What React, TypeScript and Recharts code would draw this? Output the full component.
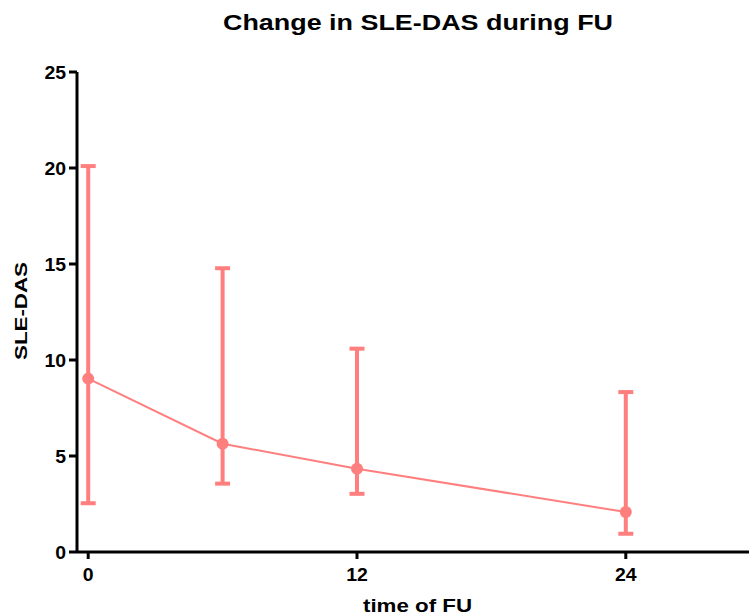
import React from "react";
import { LineChart, Line, XAxis, YAxis, ErrorBar, Label } from "recharts";

// months of follow-up
const months = [0, 6, 12, 24];
// SLE-DAS mean and the error-bar limits
const means = [9.03, 5.64, 4.34, 2.08];
const upper = [20.1, 14.78, 10.59, 8.33];
const lower = [2.54, 3.56, 3.03, 0.95];

const xTicks = [0, 12, 24];
const yTicks = [0, 5, 10, 15, 20, 25];

const PINK = "#FF7F7F";
const FONT = "'Liberation Sans', Arial, sans-serif";

const data = months.map((m, i) => ({
  month: m,
  mean: means[i],
  err: [means[i] - lower[i], upper[i] - means[i]],
}));

// bold, slightly widened tick text like the original export
function Tick(props: any) {
  const { x, y, payload, textAnchor, orientation } = props;
  const label = String(payload.value);
  const dy = orientation === "bottom" ? 13 : 6.5;
  return (
    <text
      x={x}
      y={y + dy}
      textAnchor={textAnchor}
      textLength={label.length * 10.8}
      lengthAdjust="spacingAndGlyphs"
      style={{ fontSize: 18.5, fontWeight: 700, fontFamily: FONT, fill: "#000" }}
    >
      {label}
    </text>
  );
}

export default function App() {
  return (
    <div style={{ position: "absolute", left: 0, top: 0, width: 749, height: 615 }}>
      <LineChart
        width={749}
        height={615}
        data={data}
        margin={{ top: 72, right: 0, bottom: 0, left: 0 }}
      >
        <XAxis
          dataKey="month"
          type="number"
          domain={[-0.5, 29.5]}
          allowDataOverflow
          ticks={xTicks}
          height={63}
          tickSize={7}
          tickMargin={9}
          tick={<Tick orientation="bottom" />}
          axisLine={{ stroke: "#000", strokeWidth: 3 }}
          tickLine={{ stroke: "#000", strokeWidth: 3 }}
        >
          <Label
            content={() => (
              <text
                x={417.5}
                y={612}
                textAnchor="middle"
                textLength={109}
                lengthAdjust="spacingAndGlyphs"
                style={{ fontSize: 19, fontWeight: 700, fontFamily: FONT, fill: "#000" }}
              >
                time of FU
              </text>
            )}
          />
        </XAxis>
        <YAxis
          type="number"
          domain={[0, 25]}
          ticks={yTicks}
          width={77}
          tickSize={8}
          tickMargin={3}
          tick={<Tick orientation="left" />}
          axisLine={{ stroke: "#000", strokeWidth: 3 }}
          tickLine={{ stroke: "#000", strokeWidth: 3 }}
        >
          <Label
            content={() => (
              <text
                x={27}
                y={311}
                transform="rotate(-90 27 311)"
                textAnchor="middle"
                textLength={98}
                lengthAdjust="spacingAndGlyphs"
                style={{ fontSize: 17, fontWeight: 700, fontFamily: FONT, fill: "#000" }}
              >
                SLE-DAS
              </text>
            )}
          />
        </YAxis>
        <Line
          dataKey="mean"
          stroke={PINK}
          strokeWidth={2}
          dot={{ r: 6, fill: PINK, stroke: "none" }}
          activeDot={false}
          isAnimationActive={false}
        >
          <ErrorBar dataKey="err" direction="y" width={7.5} stroke={PINK} strokeWidth={4} />
        </Line>
      </LineChart>
      <svg
        width={749}
        height={60}
        style={{ position: "absolute", left: 0, top: 0, pointerEvents: "none" }}
      >
        <text
          x={418}
          y={30}
          textAnchor="middle"
          textLength={390}
          lengthAdjust="spacingAndGlyphs"
          style={{ fontSize: 22, fontWeight: 700, fontFamily: FONT, fill: "#000" }}
        >
          Change in SLE-DAS during FU
        </text>
      </svg>
    </div>
  );
}
